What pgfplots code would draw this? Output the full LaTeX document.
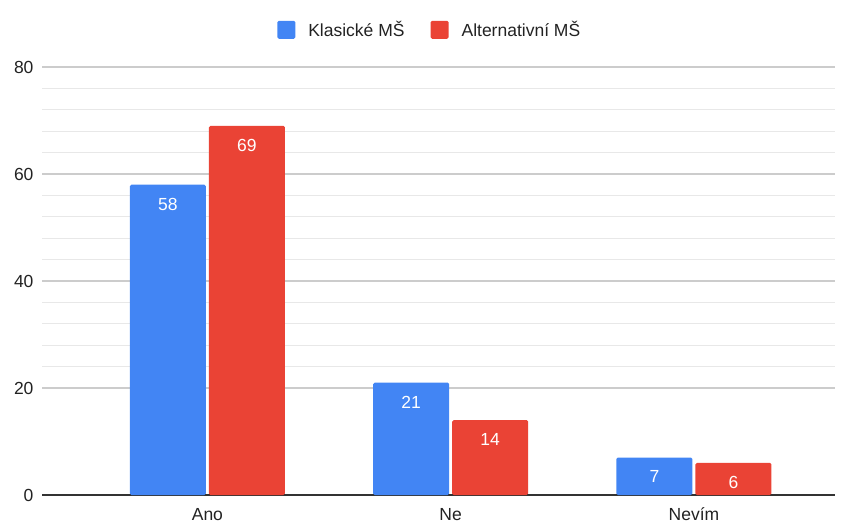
\documentclass[border=0pt]{standalone}
\usepackage{fontspec}
\setmainfont{Liberation Sans}
\usepackage{pgfplots}
\pgfplotsset{compat=1.18}
\definecolor{cblue}{HTML}{4285F4}
\definecolor{cred}{HTML}{EA4335}
\definecolor{gmajor}{HTML}{CCCCCC}
\definecolor{gminor}{HTML}{E8E8E8}
\definecolor{axdark}{HTML}{333333}
\definecolor{txt}{HTML}{222222}
\begin{document}
\begin{tikzpicture}[x=1pt,y=1pt]
\path[use as bounding box] (0,0) rectangle (848,522);
\begin{axis}[
  at={(42pt,27pt)}, anchor=south west,
  scale only axis, width=793pt, height=428pt,
  ybar=3pt, bar width=76pt,
  xmin=-0.68, xmax=2.58,
  ymin=0, ymax=80,
  xtick={0,1,2}, xticklabels={Ano,Ne,Nevím},
  ytick={20,40,60,80},
  extra y ticks={0},
  extra y tick style={major grid style={color=axdark,line width=1.5pt}},
  minor y tick num=4,
  ymajorgrids, yminorgrids,
  major grid style={color=gmajor,line width=1.2pt},
  minor grid style={color=gminor,line width=1pt},
  major tick length=0pt, minor tick length=0pt,
  axis line style={draw=none},
  tick label style={font=\fontsize{17.5}{20}\selectfont, text=txt},
  xticklabel style={anchor=base, yshift=-25pt},
  yticklabel style={xshift=-5pt},
  /pgf/number format/assume math mode=true,
  nodes near coords,
  every node near coord/.append style={font=\fontsize{17.5}{20}\selectfont, text=white, anchor=north, inner sep=0pt, yshift=-13pt},
  legend columns=2,
  legend style={at={(0.489,1.087)}, anchor=center, draw=none, fill=none,
    font=\fontsize{17.5}{20}\selectfont, text=txt,
    /tikz/every odd column/.append style={column sep=11pt},
    /tikz/every even column/.append style={column sep=24pt}},
  legend image code/.code={\fill[#1, rounded corners=1.5pt] (0pt,-9pt) rectangle (18pt,9pt);},
]
\addplot[fill=cblue, draw=none, rounded corners=1.5pt] coordinates {(0,58) (1,21) (2,7)};
\addplot[fill=cred, draw=none, rounded corners=1.5pt] coordinates {(0,69) (1,14) (2,6)};
\legend{Klasické MŠ, Alternativní MŠ}
\end{axis}
\end{tikzpicture}
\end{document}
